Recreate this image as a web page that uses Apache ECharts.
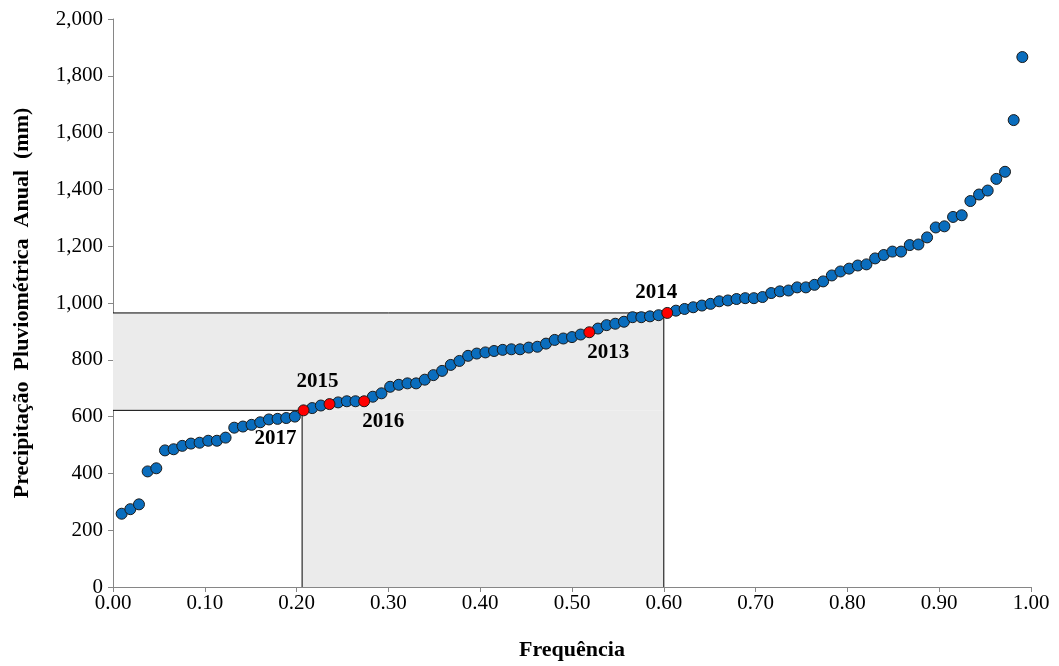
<!DOCTYPE html>
<html>
<head>
<meta charset="utf-8">
<script src="https://cdn.jsdelivr.net/npm/echarts@6/dist/echarts.min.js"></script>
<style>
html,body{margin:0;padding:0;background:#fff;}
#chart{width:1059px;height:666px;}
</style>
</head>
<body>
<div id="chart"></div>
<script>
// Annual precipitation (mm), sorted ascending (rank 1..n)
const precipitation = [
  258, 274, 291, 407, 418, 481, 485, 497, 505, 508,
  515, 515, 526, 561, 565, 571, 580, 590, 592, 595,
  600, 622, 630, 639, 644, 650, 654, 654, 654, 670,
  682, 705, 712, 717, 717, 730, 746, 761, 782, 796,
  814, 822, 826, 831, 835, 837, 837, 843, 846, 857,
  870, 875, 880, 889, 897, 910, 922, 927, 934, 950,
  950, 953, 957, 965, 973, 979, 985, 991, 997, 1006,
  1009, 1014, 1017, 1017, 1021, 1035, 1041, 1044, 1055, 1055,
  1064, 1076, 1097, 1111, 1121, 1132, 1136, 1157, 1169, 1181,
  1181, 1204, 1206, 1231, 1266, 1270, 1303, 1309, 1359, 1382,
  1396, 1437, 1462, 1644, 1866
];
// Highlighted years and their ranks in the sorted series
const highlightYears = ['2017', '2015', '2016', '2013', '2014'];
const highlightRanks = [22, 25, 29, 55, 64];
// Reference box: frequency and precipitation limits
const boxFreq = [0.206, 0.60];
const boxPrecip = [622, 965];
const xTicks = ['0.00','0.10','0.20','0.30','0.40','0.50','0.60','0.70','0.80','0.90','1.00'];

const n = precipitation.length;
const points = precipitation.map((v, i) => [(i + 1) / (n + 1), v]);
const hlSet = new Set(highlightRanks);
const bluePts = points.filter((p, i) => !hlSet.has(i + 1));
const labelOffsets = {
  '2017': [-28, 28], '2015': [-12, -23], '2016': [19, 20], '2013': [19, 20], '2014': [-11, -20]
};
const redPts = highlightRanks.map((r, k) => ({
  value: points[r - 1],
  name: highlightYears[k],
  label: { offset: labelOffsets[highlightYears[k]] }
}));

const FONT = 'Liberation Serif';
const chart = echarts.init(document.getElementById('chart'), null, { renderer: 'canvas' });
chart.setOption({
  animation: false,
  backgroundColor: '#ffffff',
  grid: { left: 113, right: 28, top: 19, bottom: 75 },
  xAxis: {
    type: 'value', min: 0, max: 1, interval: 0.1,
    name: 'Frequência', nameLocation: 'middle', nameGap: 52,
    nameTextStyle: { fontFamily: FONT, fontWeight: 'bold', fontSize: 22, color: '#000' },
    axisLine: { show: true, lineStyle: { color: '#868686', width: 1 } },
    axisTick: { show: true, length: 5, lineStyle: { color: '#868686' } },
    axisLabel: { fontFamily: FONT, fontSize: 21, color: '#000', margin: 6,
      formatter: v => xTicks[Math.round(v * 10)] },
    splitLine: { show: false }
  },
  yAxis: {
    type: 'value', min: 0, max: 2000, interval: 200,
    name: 'Precipitação  Pluviométrica  Anual  (mm)', nameLocation: 'middle', nameGap: 80,
    nameTextStyle: { fontFamily: FONT, fontWeight: 'bold', fontSize: 22, color: '#000' },
    axisLine: { show: true, lineStyle: { color: '#868686', width: 1 } },
    axisTick: { show: true, length: 5, lineStyle: { color: '#868686' } },
    axisLabel: { fontFamily: FONT, fontSize: 21, color: '#000', margin: 10,
      formatter: v => v.toLocaleString('en-US') },
    splitLine: { show: false }
  },
  series: [
    {
      type: 'line', silent: true, symbol: 'none', z: 1,
      data: [],
      markArea: {
        silent: true,
        itemStyle: { color: '#ebebeb', opacity: 1 },
        data: [
          [{ coord: [0, boxPrecip[0]] }, { coord: [boxFreq[1], boxPrecip[1]] }],
          [{ coord: [boxFreq[0], 0] }, { coord: [boxFreq[1], boxPrecip[0]] }]
        ]
      }
    },
    {
      type: 'line', silent: true, symbol: 'none', z: 2,
      lineStyle: { color: '#000', width: 1 },
      data: [[0, boxPrecip[1]], [boxFreq[1], boxPrecip[1]], [boxFreq[1], 0]]
    },
    {
      type: 'line', silent: true, symbol: 'none', z: 2,
      lineStyle: { color: '#000', width: 1 },
      data: [[0, boxPrecip[0]], [boxFreq[0], boxPrecip[0]], [boxFreq[0], 0]]
    },
    {
      type: 'scatter', z: 3, symbolSize: 11,
      itemStyle: { color: '#0A6DBD', borderColor: '#1b1b1b', borderWidth: 1, opacity: 1 },
      data: bluePts
    },
    {
      type: 'scatter', z: 4, symbolSize: 11,
      itemStyle: { color: '#FF0000', borderColor: '#1b1b1b', borderWidth: 1, opacity: 1 },
      label: { show: true, position: 'inside', formatter: p => p.name,
        fontFamily: FONT, fontWeight: 'bold', fontSize: 21, color: '#000' },
      data: redPts
    }
  ]
});
</script>
</body>
</html>
